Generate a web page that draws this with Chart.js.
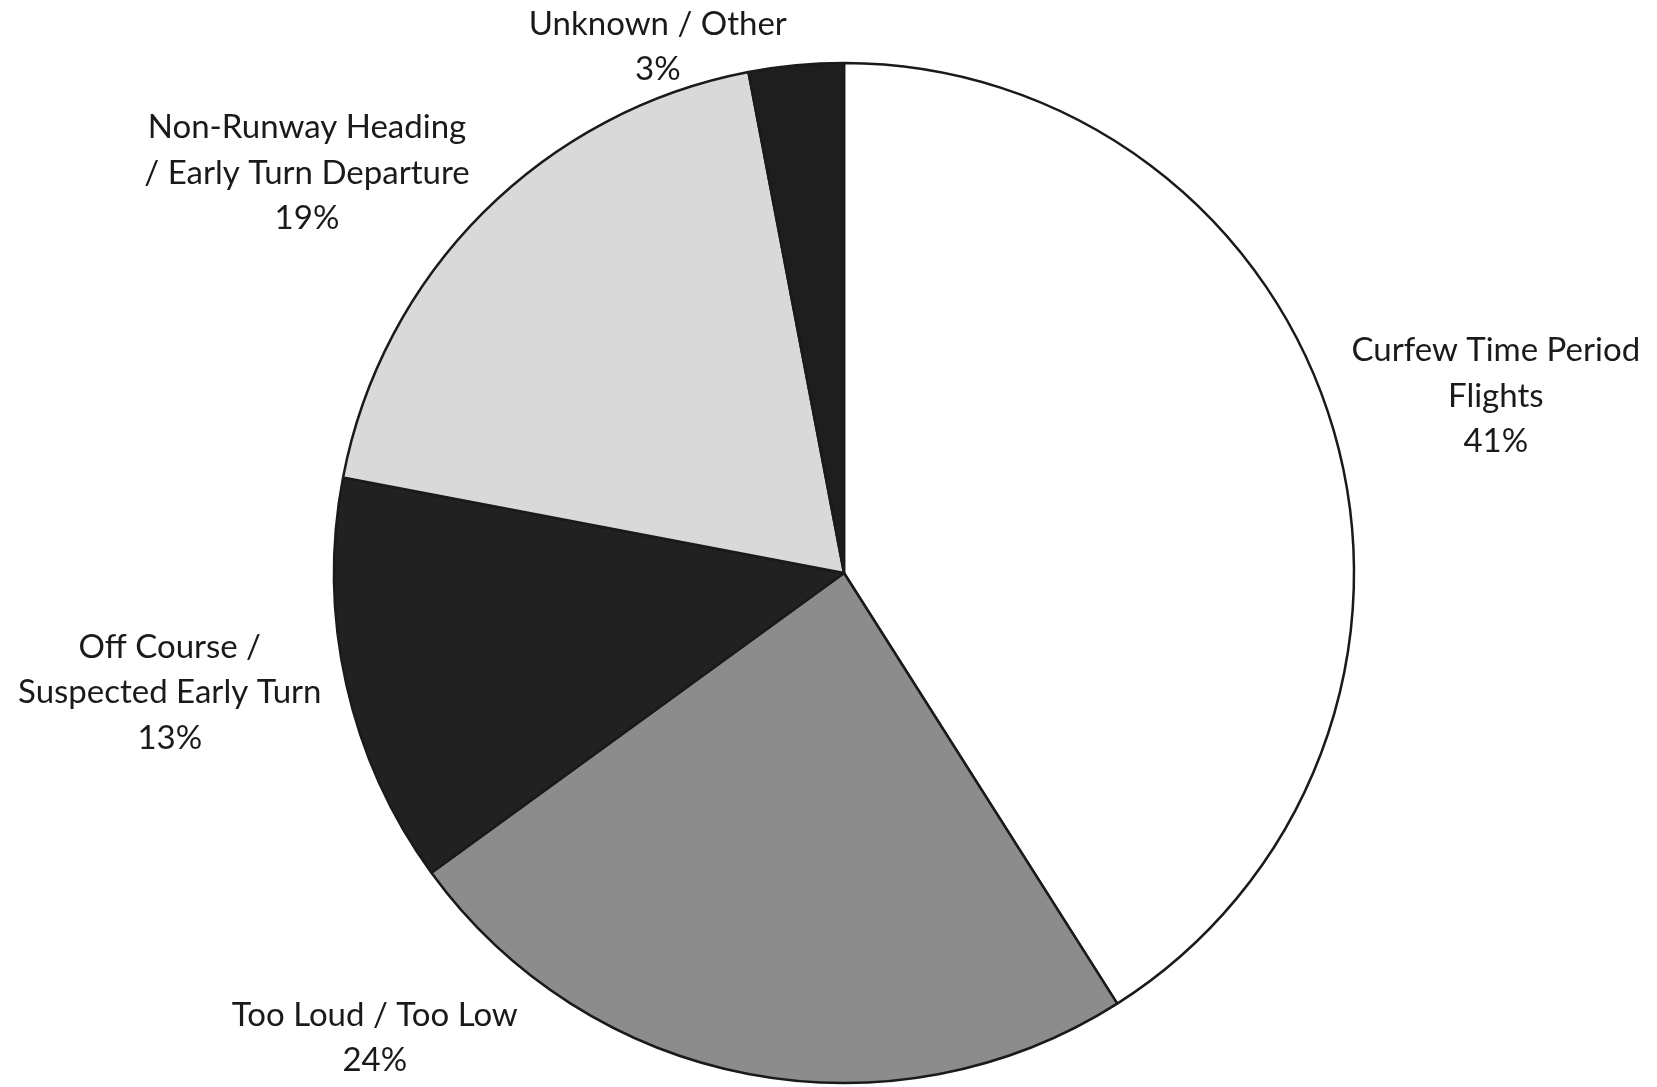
<!DOCTYPE html>
<html>
<head>
<meta charset="utf-8">
<script src="https://cdn.jsdelivr.net/npm/chart.js@4"></script>
<style>
  html, body { margin: 0; padding: 0; background: #ffffff; }
  #wrap { width: 1657px; height: 1087px; }
</style>
</head>
<body>
<div id="wrap"><canvas id="pie" width="1657" height="1087"></canvas></div>
<script>
// Complaint categories (clockwise from 12 o'clock)
const categories = [
  ['Curfew Time Period', 'Flights'],
  ['Too Loud / Too Low'],
  ['Off Course /', 'Suspected Early Turn'],
  ['Non-Runway Heading', '/ Early Turn Departure'],
  ['Unknown / Other']
];
// Share of complaints, percent
const shares = [41, 24, 13, 19, 3];
const sliceColors = ['#ffffff', '#8c8c8c', '#212121', '#d9d9d9', '#1e1e1e'];

// Where each label block sits, in units of the pie radius from its centre
const labelPlacement = [
  { dx: 1.278, dy: -0.349 },
  { dx: -0.920, dy: 0.910 },
  { dx: -1.322, dy: 0.233 },
  { dx: -1.053, dy: -0.786 },
  { dx: -0.365, dy: -1.033 }
];

const FONT_PX = 33;
const LINE_GAP = 45.5;

const sliceLabels = {
  id: 'sliceLabels',
  afterDatasetsDraw(chart) {
    const meta = chart.getDatasetMeta(0);
    const ctx = chart.ctx;
    ctx.save();
    ctx.font = FONT_PX + 'px Lato, "Open Sans", sans-serif';
    ctx.fillStyle = '#1a1a1a';
    ctx.textAlign = 'center';
    ctx.textBaseline = 'alphabetic';
    meta.data.forEach((arc, i) => {
      const r = arc.outerRadius;
      const cx = arc.x + labelPlacement[i].dx * r;
      const cy = arc.y + labelPlacement[i].dy * r;
      const lines = categories[i].concat([shares[i] + '%']);
      const capHalf = FONT_PX * 0.35;
      lines.forEach((t, k) => {
        const y = cy + (k - (lines.length - 1) / 2) * LINE_GAP + capHalf;
        ctx.fillText(t, cx, y);
      });
    });
    ctx.restore();
  }
};

new Chart(document.getElementById('pie'), {
  type: 'pie',
  data: {
    labels: categories.map(c => c.join(' ')),
    datasets: [{
      data: shares,
      backgroundColor: sliceColors,
      borderColor: '#1a1a1a',
      borderWidth: 2.5,
      radius: 510
    }]
  },
  options: {
    responsive: false,
    animation: false,
    layout: { padding: { left: 131, right: 100, top: 59, bottom: 0 } },
    plugins: {
      legend: { display: false },
      tooltip: { enabled: false }
    }
  },
  plugins: [sliceLabels]
});
</script>
</body>
</html>
